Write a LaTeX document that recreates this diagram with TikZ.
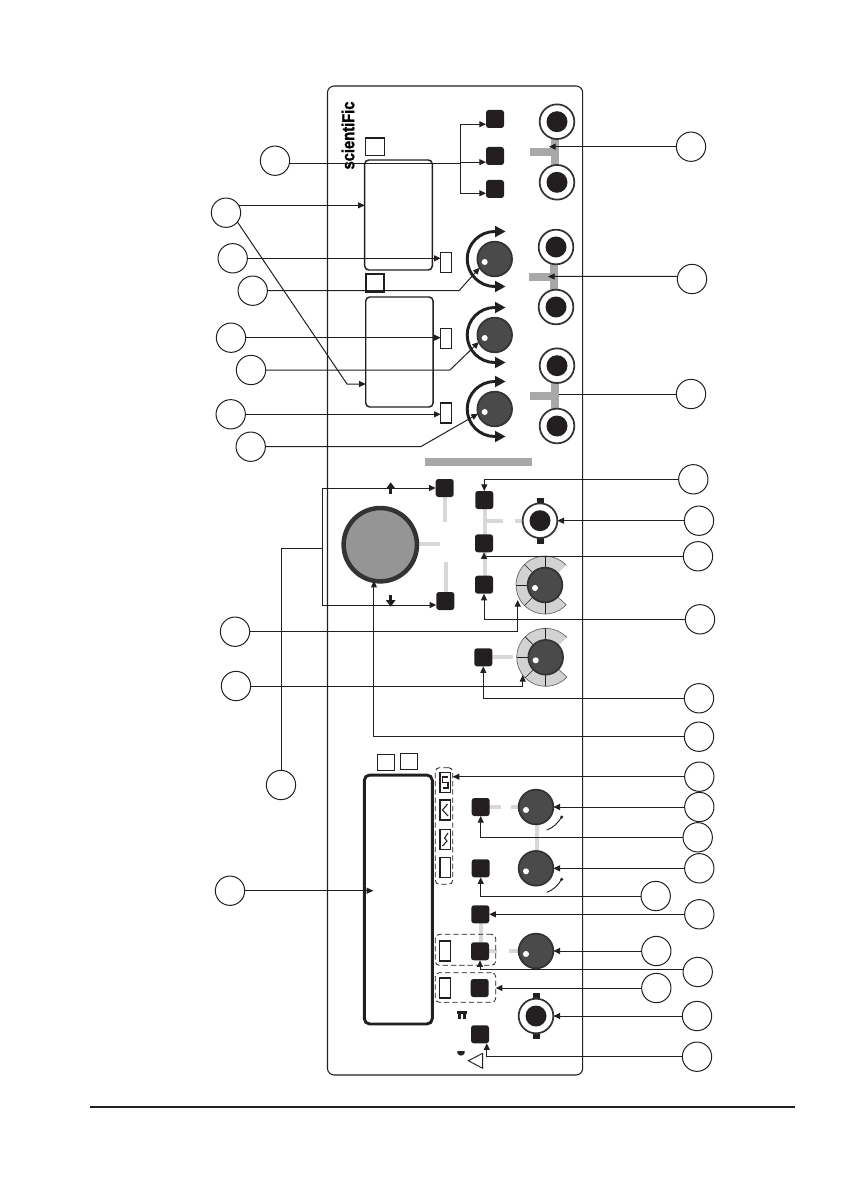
\documentclass[tikz,border=0pt]{standalone}
\usepackage{fontspec}
\setmainfont{Liberation Sans}
\newfontfamily\logofont{Liberation Sans}[BoldFeatures = {FakeBold = 1.5, FakeStretch = 0.85}]
\usetikzlibrary{arrows.meta}
\definecolor{inkDark}{HTML}{231F20}
\definecolor{knobGray}{HTML}{4A4A4A}
\definecolor{ringDark}{HTML}{333333}
\definecolor{barGray}{HTML}{A8A8A8}
\definecolor{wireGray}{HTML}{D8D8D8}
\definecolor{fanGray}{HTML}{D2D2D2}
\definecolor{dialGray}{HTML}{959595}
\tikzset{
	lbl/.style = {circle, draw = inkDark, line width = 0.75pt, minimum size = 22pt, inner sep = 0, outer sep = 0},
	btn/.style = {rectangle, fill = inkDark, rounded corners = 2pt, minimum size = 13.5pt, inner sep = 0, outer sep = 0},
	knob/.style = {circle, draw = ringDark, fill = knobGray, line width = 1.3pt, minimum size = 26pt, inner sep = 0, outer sep = 0},
	jack/.style = {circle, draw = ringDark, fill = white, line width = 1.3pt, minimum size = 26pt, inner sep = 0, outer sep = 0},
	slim/.style = {rectangle, draw = inkDark, fill = white, line width = 0.8pt, minimum width = 8pt, minimum height = 15pt, inner sep = 0, outer sep = 0},
	tag/.style = {rectangle, draw = inkDark, line width = 0.8pt, minimum width = 14pt, minimum height = 13pt, inner sep = 0, outer sep = 0},
	screen/.style = {rectangle, draw = inkDark, line width = 1.1pt, rounded corners = 3pt, inner sep = 0, outer sep = 0},
	dashbox/.style = {rectangle, draw = inkDark, dash pattern = on 4pt off 2.2pt, line width = 0.6pt, rounded corners = 3pt, inner sep = 0, outer sep = 0},
	conn/.style = {draw = inkDark, line width = 0.75pt, -{Triangle[length = 5pt, width = 4.5pt]}},
	plainconn/.style = {draw = inkDark, line width = 0.75pt},
	wire/.style = {wireGray, line width = 3pt},
	tee/.style = {barGray, line width = 5.5pt},
	sweep/.style = {inkDark, line width = 2.2pt, {Triangle[length = 8pt, width = 8pt]}-{Triangle[length = 8pt, width = 8pt]}}
}
\begin{document}
\begin{tikzpicture}[x = 0.75pt, y = -0.75pt]
	\useasboundingbox (0, 0) rectangle (841, 1191);
	% front panel and rule
	\draw[inkDark, line width = 0.8pt, rounded corners = 5pt] (327.5, 86) rectangle (582.7, 1075);
	\draw[inkDark, line width = 1.5pt] (90, 1107) -- (795, 1107);
	\node[rotate = 90, inner sep = 0] (logo) at (348, 135.5) {\logofont\fontsize{13}{13}\bfseries\selectfont scientiFic};
	% gray bar and gray tees behind the jacks
	\fill[barGray] (425, 458) rectangle (532, 466);
	\draw[tee] (555, 122) -- (555, 182);
	\draw[tee] (530, 152) -- (555, 152);
	\draw[tee] (554, 247) -- (554, 307);
	\draw[tee] (529, 277) -- (554, 277);
	\draw[tee] (555, 366) -- (555, 426);
	\draw[tee] (530, 396) -- (555, 396);
	% light wires
	\draw[wire] (445, 488) -- (445, 522);
	\draw[wire] (445.5, 562) -- (445.5, 600);
	\draw[wire] (418, 543.5) -- (440, 543.5);
	\draw[wire] (484.5, 500) -- (484.5, 585);
	\draw[wire] (484.5, 521.3) -- (503, 521.3);
	\draw[wire] (515, 521.3) -- (523, 521.3);
	\draw[wire] (484, 657.3) -- (513, 657.3);
	\draw[wire] (488, 807) -- (501, 807);
	\draw[wire] (511, 807) -- (525, 807);
	\draw[wire] (536.7, 807) -- (536.7, 868);
	\draw[wire] (480.7, 914) -- (480.7, 951);
	\draw[wire] (488, 951) -- (497, 951);
	\draw[wire] (509, 951) -- (525, 951);
	% displays and their small boxes
	\node[screen, minimum width = 50.7pt, minimum height = 82.5pt] (dispA) at (398.5, 215) {};
	\node[screen, minimum width = 50.5pt, minimum height = 82.5pt] (dispB) at (399.4, 352) {};
	\node[screen, line width = 2.2pt, rounded corners = 4pt, minimum width = 51pt, minimum height = 186.7pt] (dispC) at (398.3, 899.5) {};
	\node[tag] (tagA) at (374.7, 146.7) {};
	\node[tag, line width = 1.4pt] (tagB) at (375, 283) {};
	\node[tag, minimum width = 13pt, minimum height = 12pt] (tagC) at (386, 762.3) {};
	\node[tag, line width = 1.2pt, minimum width = 13pt, minimum height = 12pt] (tagD) at (409, 761.3) {};
	% slim lamps
	\foreach \n/\x/\y in {slimA/446/262.7, slimB/446/338.7, slimC/446/413, slimD/445.3/782.7, slimE/445.3/810, slimF/445.3/839.3, slimG/445.3/867.7, slimH/445/951, slimI/445/988}
		\node[slim] (\n) at (\x, \y) {};
	% wave signs in the lamps
	\draw[inkDark, line width = 0.8pt] (442.5, 788) -- (448, 788) -- (448, 782.7) -- (442.5, 782.7) -- (442.5, 777) -- (448, 777);
	\draw[inkDark, line width = 0.8pt] (447.5, 804) -- (442.5, 810) -- (448, 816);
	\draw[inkDark, line width = 0.8pt] (448, 833) -- (444.5, 838) -- (447, 841) -- (442.5, 846);
	% dashed groups
	\node[dashbox, minimum width = 13pt, minimum height = 87.5pt] (groupA) at (444, 826) {};
	\node[dashbox, minimum width = 45.3pt, minimum height = 23.2pt] (groupB) at (465.5, 949.8) {};
	\node[dashbox, minimum width = 45.3pt, minimum height = 22.2pt] (groupC) at (465.5, 987.5) {};
	% buttons
	\foreach \n/\x/\y in {btnA/495/119, btnB/495/156, btnC/495/189, btnD/444.7/488, btnE/445.3/601, btnF/484.3/500, btnG/484/543.3, btnH/484/584.7, btnI/483.3/657.3, btnJ/480.7/807, btnK/480.7/868.3, btnL/480.3/914.3, btnM/480/951.3, btnN/479.7/988, btnO/480/1034.3}
		\node[btn] (\n) at (\x, \y) {};
	% jacks
	\foreach \n/\x/\y in {jackA/557/121.7, jackB/557/182.3, jackC/556/247, jackD/556/307, jackE/557/365.7, jackF/557/426} {
		\node[jack] (\n) at (\x, \y) {};
		\fill[inkDark] (\x, \y) circle (10.5);
	}
	% bnc sockets
	\foreach \n/\x/\y in {bncA/540/520.7, bncB/536/1016} {
		\fill[inkDark] (\x - 3.5, \y - 23) rectangle (\x + 3.5, \y + 23);
		\node[jack] (\n) at (\x, \y) {};
		\fill[inkDark] (\x, \y) circle (10.5);
	}
	% gray fans of the two selectors
	\foreach \x/\y in {545/585, 545.7/657.3} {
		\filldraw[fanGray, draw = inkDark!70, line width = 0.5pt] (\x, \y) ++(-43:29) arc (-43:-317:29) -- (\x, \y) ++(-317:17) arc (-317:-43:17) -- cycle;
		\foreach \a in {90, 135, 180, 225, 270}
			\draw[inkDark, line width = 0.5pt] (\x, \y) ++(\a:17) -- ++(\a:12);
	}
	% sweep arrows round the knobs
	\foreach \x/\y in {494.7/259, 494.7/335, 494.7/409}
		\draw[sweep] (\x + 11, \y - 27.5) -- (\x, \y - 27.5) arc (-90:-270:27.5) -- (\x + 11, \y + 27.5);
	% small sweeps
	\foreach \y in {830, 892.3} {
		\draw[inkDark, line width = 0.7pt] (546.7, \y) .. controls (553, \y - 2) and (558, \y - 7) .. (561.7, \y - 13);
		\fill[inkDark] (561.7, \y - 13) circle (1.7);
	}
	% knobs
	\foreach \n/\x/\y in {knobA/494.7/259, knobB/494.7/335, knobC/494.7/409, knobD/545/585, knobE/545.7/657.3, knobF/536/807, knobG/536/868.3, knobH/536/951} {
		\node[knob] (\n) at (\x, \y) {};
		\fill[white] (\x - 10, \y + 3) circle (3);
	}
	% big dial and its arrows
	\node[circle, draw = ringDark, fill = dialGray, line width = 3.4pt, minimum size = 55pt, inner sep = 0, outer sep = 0] (bigDial) at (380.3, 544.7) {};
	\draw[inkDark, line width = 2.4pt, -{Triangle[length = 5pt, width = 7pt]}] (390.7, 493.5) -- (390.7, 482.3);
	\draw[inkDark, line width = 2.4pt, -{Triangle[length = 5pt, width = 7pt]}] (390.7, 595) -- (390.7, 606.7);
	% signs at the bottom
	\fill[inkDark] (457, 1010.7) rectangle (467, 1013.5);
	\fill[inkDark] (458, 1013) rectangle (461, 1019.3);
	\fill[inkDark] (463, 1013) rectangle (466, 1019.3);
	\fill[inkDark] (457.3, 1051) -- (464.7, 1051) -- (464.7, 1053) .. controls (463, 1056.5) and (459, 1056.5) .. (457.3, 1053) -- cycle;
	\draw[inkDark, line width = 0.7pt] (468.3, 1060.7) -- (482.7, 1053.3) -- (482.7, 1068.3) -- cycle;
	% circles on the left
	\foreach \n/\x/\y in {lblA/275/160.7, lblB/226/212.7, lblC/232.7/258.3, lblD/252.7/290.7, lblE/231/337.7, lblF/251/370, lblG/230.7/414.3, lblH/250.7/446.7, lblI/235/631.7, lblJ/236/686, lblK/281/785, lblL/230/890.7}
		\node[lbl] (\n) at (\x, \y) {};
	% circles on the right
	\foreach \n/\x/\y in {lblM/691/146.7, lblN/692/279, lblO/691/394, lblP/693.3/479.3, lblQ/699/520.7, lblR/698/556.3, lblS/700/619.3, lblT/699/698.3, lblU/699/736.7, lblV/699.3/776.7, lblW/699.3/807, lblX/697.7/837.3, lblY/699.3/868.3, lblZ/655.7/896, lblAA/699.3/914.3, lblAB/656.3/951, lblAC/697.7/972, lblAD/656.3/988, lblAE/697/1016, lblAF/697/1056.7}
		\node[lbl] (\n) at (\x, \y) {};
	% free ends
	\coordinate (busT) at (460, 164);
	\coordinate (tipM) at (549, 146.7);
	\coordinate (tipN) at (548, 276.5);
	\coordinate (tipO) at (559, 394);
	\coordinate (busD) at (322.3, 548.3);
	\coordinate (tipI) at (517.7, 600);
	\coordinate (tipJ) at (522.7, 675);
	\coordinate (tipL) at (373.3, 890.7);
	% connectors from the left
	\draw[plainconn] (lblA.-13) -- (lblA.-13 -| busT);
	\draw[conn] (busT) |- ([yshift = -3.9pt]btnA.west);
	\draw[conn] (busT) |- ([yshift = -4.6pt]btnB.west);
	\draw[conn] (busT) |- ([yshift = -3.2pt]btnC.west);
	\draw[conn] (lblB.30) -- (lblB.30 -| dispA.west);
	\draw[conn] (lblB.-39) -- (347, 384) -- (dispB.west |- 347, 384);
	\draw[conn] (lblC) -- (lblC -| slimA.west);
	\draw[conn] (lblD) -- (459, 290.7) -- (knobA.210);
	\draw[conn] (lblE) -- (lblE -| slimB.west);
	\draw[conn] (lblF) -- (450, 370) -- (knobB.204);
	\draw[conn] (lblG) -- (lblG -| slimC.west);
	\draw[conn] (lblH) -- (420.7, 446.7) -- (knobC.196);
	\draw[conn] (lblI) -| (tipI);
	\draw[conn] (lblJ) -| (tipJ);
	\draw[plainconn] (lblK) |- (busD);
	\draw[conn] (busD) |- (btnD);
	\draw[conn] (busD) |- ([yshift = -3pt]btnE.west);
	\draw[conn] (lblL) -- (tipL);
	% connectors from the right
	\draw[conn] (lblM) -- (tipM);
	\draw[conn] (lblN.170) -- (tipN);
	\draw[plainconn] (lblO) -- (tipO);
	\draw[conn] (lblP) -| (btnF);
	\draw[conn] (lblQ) -- (bncA);
	\draw[conn] (lblR) -| (btnG);
	\draw[conn] (lblS) -| (btnH);
	\draw[conn] (lblT) -| (btnI);
	\draw[conn] (lblU) -| (bigDial.-100);
	\draw[conn] (lblV) -- (lblV -| groupA.east);
	\draw[conn] (lblW) -- (knobF);
	\draw[conn] (lblX) -| (btnJ);
	\draw[conn] (lblY) -- (knobG);
	\draw[conn] (lblZ) -| (btnK);
	\draw[conn] (lblAA) -- (btnL);
	\draw[conn] (lblAB) -- (knobH);
	\draw[conn] (lblAC.172) -| (btnM);
	\draw[conn] (lblAD) -- (lblAD -| groupC.east);
	\draw[conn] (lblAE) -- (bncB);
	\draw[conn] (lblAF) -| (btnO.-53);
\end{tikzpicture}
\end{document}
